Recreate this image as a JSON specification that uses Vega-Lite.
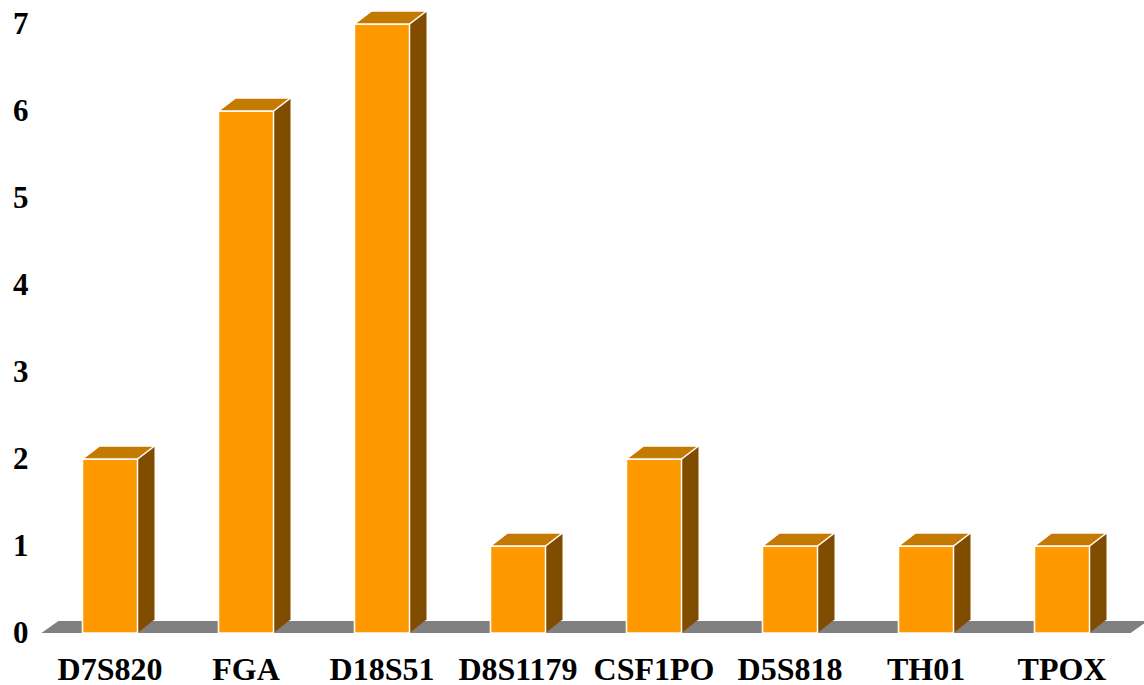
{
  "$schema": "https://vega.github.io/schema/vega-lite/v6.json",
  "autosize": "none",
  "width": 1088,
  "height": 609,
  "padding": {"left": 42, "top": 24, "right": 14, "bottom": 52},
  "background": "white",
  "config": {
    "view": {"stroke": null},
    "axis": {
      "labelFont": "Liberation Serif",
      "labelFontWeight": "bold",
      "labelFontSize": 32,
      "labelColor": "black",
      "domain": false,
      "ticks": false,
      "tickSize": 0,
      "grid": false,
      "title": null
    }
  },
  "data": {
    "values": [
      {"locus": "D7S820", "count": 2},
      {"locus": "FGA", "count": 6},
      {"locus": "D18S51", "count": 7},
      {"locus": "D8S1179", "count": 1},
      {"locus": "CSF1PO", "count": 2},
      {"locus": "D5S818", "count": 1},
      {"locus": "TH01", "count": 1},
      {"locus": "TPOX", "count": 1}
    ]
  },
  "encoding": {
    "x": {
      "field": "locus",
      "type": "nominal",
      "sort": null,
      "scale": {"paddingInner": 0, "paddingOuter": 0},
      "axis": {"labelAngle": 0, "labelPadding": 21}
    }
  },
  "layer": [
    {
      "mark": {
        "type": "point",
        "shape": "M-68.6,0 L68.6,0 L85.6,-12 L-51.6,-12 Z",
        "size": 4,
        "filled": true,
        "opacity": 1,
        "fill": "#808080",
        "strokeWidth": 0
      },
      "encoding": {
        "y": {"datum": 0, "type": "quantitative", "scale": {"domain": [0, 7]}}
      }
    },
    {
      "mark": {
        "type": "bar",
        "width": 17,
        "xOffset": 36,
        "yOffset": -13,
        "y2Offset": -13,
        "fill": "#7F4C00"
      },
      "encoding": {
        "y": {"field": "count", "type": "quantitative"},
        "y2": {"datum": 0}
      }
    },
    {
      "mark": {
        "type": "point",
        "shape": "M27.5,-13.5 L44.5,-13.5 L27.5,0 Z",
        "size": 4,
        "filled": true,
        "opacity": 1,
        "fill": "#7F4C00",
        "strokeWidth": 0
      },
      "encoding": {
        "y": {"datum": 0, "type": "quantitative"}
      }
    },
    {
      "mark": {
        "type": "bar",
        "width": 55,
        "fill": "#FF9900",
        "stroke": "white",
        "strokeWidth": 1.5
      },
      "encoding": {
        "y": {
          "field": "count",
          "type": "quantitative",
          "scale": {"domain": [0, 7]},
          "axis": {
            "values": [0, 1, 2, 3, 4, 5, 6, 7],
            "format": "d",
            "labelFontSize": 31,
            "labelPadding": 14
          }
        }
      }
    },
    {
      "mark": {
        "type": "point",
        "shape": "M-27.5,0 L27.5,0 L44.5,-13 L-10.5,-13 Z",
        "size": 4,
        "filled": true,
        "opacity": 1,
        "fill": "#C47A00",
        "stroke": "white",
        "strokeWidth": 1.5
      },
      "encoding": {
        "y": {"field": "count", "type": "quantitative"}
      }
    }
  ]
}
